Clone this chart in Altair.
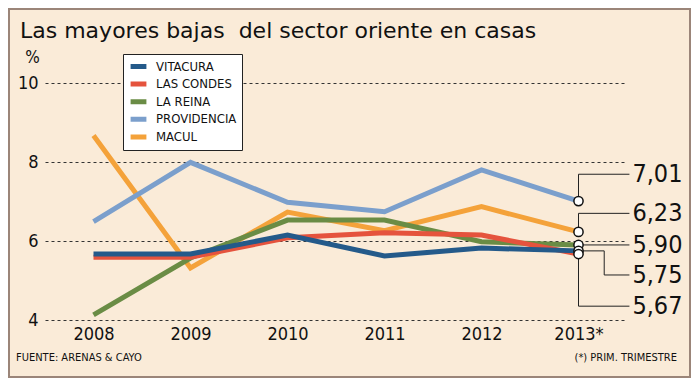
import altair as alt
import pandas as pd

# ---- data -------------------------------------------------------------
years = [2008, 2009, 2010, 2011, 2012, 2013]
series_names = ["VITACURA", "LAS CONDES", "LA REINA", "PROVIDENCIA", "MACUL"]
series_colors = ["#245a8a", "#e5533d", "#6a8c45", "#7b9fcc", "#f4a23a"]

vitacura = [5.67, 5.67, 6.15, 5.62, 5.82, 5.75]
las_condes = [5.59, 5.59, 6.08, 6.21, 6.15, 5.67]
la_reina = [4.13, 5.57, 6.53, 6.53, 5.98, 5.90]
providencia = [6.49, 7.99, 6.98, 6.74, 7.80, 7.01]
macul = [8.67, 5.32, 6.73, 6.26, 6.87, 6.23]

end_labels = ["7,01", "6,23", "5,90", "5,75", "5,67"]
end_values = [7.01, 6.23, 5.90, 5.75, 5.67]
label_y = [7.69, 6.70, 5.90, 5.14, 4.35]
# leader lines (data units): series, order, x, y
leader_paths = {
    "PROVIDENCIA": [(2013, 7.01), (2013, 7.69), (2013.525, 7.69)],
    "MACUL": [(2013, 6.23), (2013, 6.70), (2013.525, 6.70)],
    "LA REINA": [(2013, 5.90), (2013.525, 5.90)],
    "VITACURA": [(2013, 5.75), (2013.265, 5.75), (2013.265, 5.14), (2013.525, 5.14)],
    "LAS CONDES": [(2013, 5.67), (2013, 4.35), (2013.525, 4.35)],
}

title_text = "Las mayores bajas\u00a0 del sector oriente en casas"
source_text = "FUENTE: ARENAS & CAYO"
note_text = "(*) PRIM. TRIMESTRE"

# ---- tables -----------------------------------------------------------
draw_order = ["MACUL", "PROVIDENCIA", "LA REINA", "LAS CONDES", "VITACURA"]
values_by_name = {
    "VITACURA": vitacura, "LAS CONDES": las_condes, "LA REINA": la_reina,
    "PROVIDENCIA": providencia, "MACUL": macul,
}
rows = []
for name in draw_order:
    for yr, v in zip(years, values_by_name[name]):
        rows.append({"serie": name, "year": yr, "value": v})
df = pd.DataFrame(rows)

ends = pd.DataFrame({"year": [2013] * 5, "value": end_values,
                     "label": end_labels, "ly": label_y, "lx": [2013.525] * 5})

lrows = []
for name, pts in leader_paths.items():
    for i, (x, y) in enumerate(pts):
        lrows.append({"serie": name, "o": i, "x": x, "y": y})
leaders = pd.DataFrame(lrows)

NARROW = "Liberation Sans Narrow, DejaVu Sans Condensed, sans-serif"
W, H = 582, 237

xscale = alt.Scale(domain=[2007.5, 2013.5], nice=False, zero=False)
yscale = alt.Scale(domain=[4, 10], nice=False, zero=False)

lines = alt.Chart(df).mark_line(strokeWidth=5, strokeCap="butt", strokeJoin="miter").encode(
    x=alt.X("year:Q", scale=xscale, title=None,
            axis=alt.Axis(values=years, grid=False, domain=False, ticks=False,
                          labelFontSize=18, labelFont=NARROW, labelColor="#111",
                          labelPadding=5,
                          labelExpr="datum.value == 2013 ? '2013*' : datum.value")),
    y=alt.Y("value:Q", scale=yscale,
            axis=alt.Axis(values=[4, 6, 8, 10], grid=True, gridDash=[3, 3],
                          gridColor="#333", gridWidth=1, domain=False, ticks=False,
                          labelFontSize=18, labelFont=NARROW, labelColor="#111",
                          labelPadding=7,
                          title="%", titleAngle=0, titleX=-13, titleY=-26,
                          titleAlign="center", titleBaseline="middle",
                          titleFontSize=17, titleFontWeight="normal",
                          titleFont=NARROW, titleColor="#111")),
    color=alt.Color("serie:N",
                    scale=alt.Scale(domain=series_names, range=series_colors),
                    legend=alt.Legend(title=None, orient="none", legendX=78, legendY=-29,
                                      fillColor="white", strokeColor="#222",
                                      padding=5, symbolType="stroke",
                                      symbolStrokeWidth=5, symbolSize=250,
                                      clipHeight=15,
                                      labelFont=NARROW, labelFontSize=13,
                                      labelColor="#111", rowPadding=2.6,
                                      labelOffset=7)),
    detail="serie:N",
)

leader_lines = alt.Chart(leaders).mark_line(color="#222", strokeWidth=1).encode(
    x=alt.X("x:Q", scale=xscale),
    y=alt.Y("y:Q", scale=yscale),
    detail="serie:N",
    order="o:Q",
)

circles = alt.Chart(ends).mark_point(
    shape="circle", filled=True, fill="white", stroke="#111",
    strokeWidth=1.5, size=85, opacity=1
).encode(x=alt.X("year:Q", scale=xscale), y=alt.Y("value:Q", scale=yscale))

end_text = alt.Chart(ends).mark_text(
    align="left", baseline="middle", dx=3, fontSize=25, font=NARROW, color="#111"
).encode(x=alt.X("lx:Q", scale=xscale), y=alt.Y("ly:Q", scale=yscale), text="label:N")

title = alt.Chart(pd.DataFrame({"t": [title_text]})).mark_text(
    align="left", baseline="alphabetic", fontSize=22, font="DejaVu Sans", color="#111"
).encode(x=alt.value(-25), y=alt.value(-45), text="t:N")

source = alt.Chart(pd.DataFrame({"t": [source_text]})).mark_text(
    align="left", baseline="middle", fontSize=11, font=NARROW, color="#111"
).encode(x=alt.value(-29), y=alt.value(275), text="t:N")

note = alt.Chart(pd.DataFrame({"t": [note_text]})).mark_text(
    align="right", baseline="middle", fontSize=11, font=NARROW, color="#111"
).encode(x=alt.value(632), y=alt.value(275), text="t:N")

border = alt.Chart(pd.DataFrame({"a": [0]})).mark_rect(
    fill=None, stroke="#9b8579", strokeWidth=2
).encode(x=alt.value(-36), x2=alt.value(645), y=alt.value(-74), y2=alt.value(294))

chart = alt.layer(border, title, lines, leader_lines, circles, end_text, source, note).properties(
    width=W, height=H,
    autosize=alt.AutoSizeParams(type="none"),
    padding={"left": 37, "top": 75, "right": 64, "bottom": 58},
    background="#faebd8",
).configure_view(stroke=None)

chart.save("out.html", embed_options={"renderer": "svg", "actions": False})
